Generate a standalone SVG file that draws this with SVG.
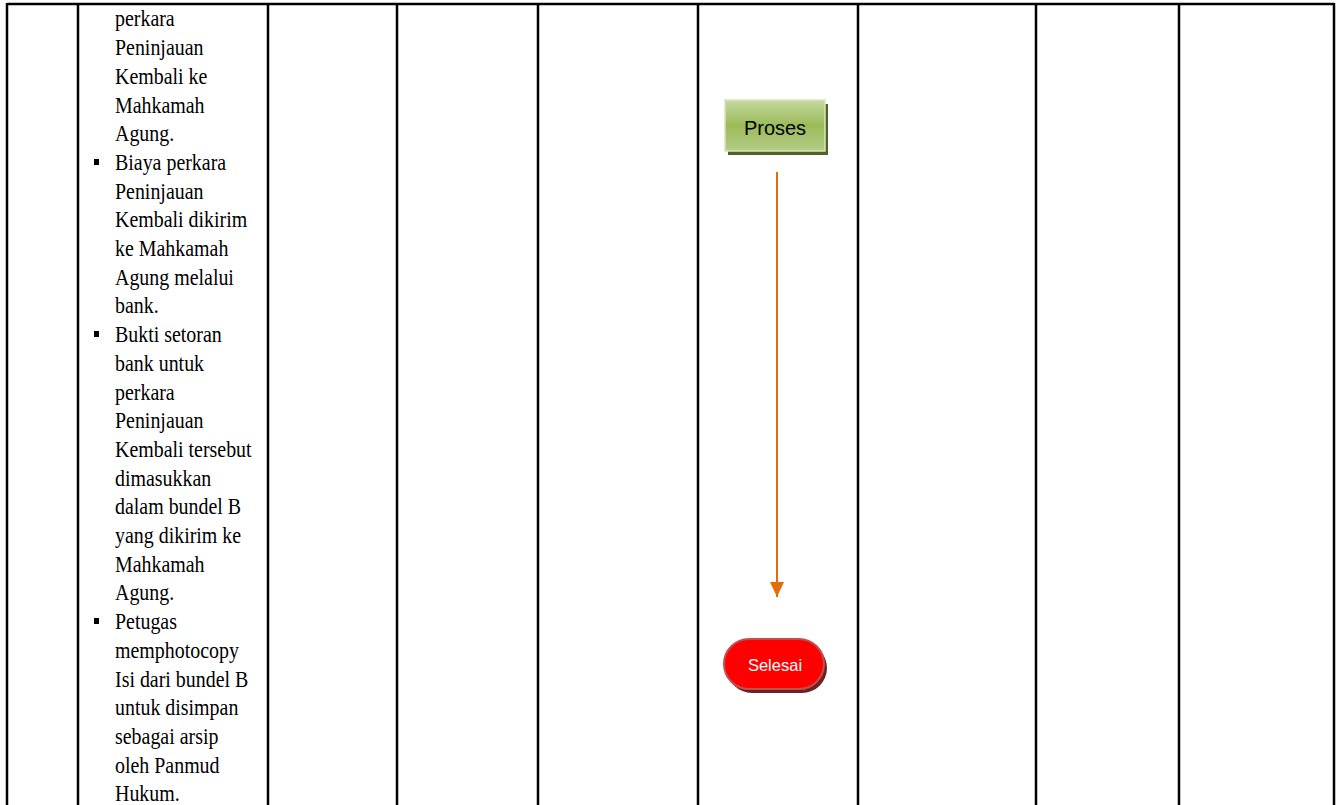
<svg xmlns="http://www.w3.org/2000/svg" width="1337" height="805" viewBox="0 0 1337 805">
<style>
.grid{stroke:#000;stroke-width:2.5;fill:none}
.body{font-family:"Liberation Serif","Times New Roman",serif;font-size:24px;fill:#000}
.lbl{font-family:"Liberation Sans",Arial,sans-serif;text-anchor:middle}
.conn{stroke:#e36c09;stroke-width:2;fill:none}
</style>
<defs>
<linearGradient id="gGreen" x1="0" y1="0" x2="0" y2="1">
<stop offset="0" stop-color="#c6d9a0"/>
<stop offset="0.5" stop-color="#9bbb59"/>
<stop offset="1" stop-color="#b5cc86"/>
</linearGradient>
<marker id="arr" markerWidth="15" markerHeight="14" refX="15" refY="7" orient="auto" markerUnits="userSpaceOnUse" viewBox="0 0 15 14">
<path d="M0,0 L15,7 L0,14 Z" fill="#e36c09"/>
</marker>
</defs>
<rect x="0" y="0" width="1337" height="805" fill="#fff"/>
<g id="table" class="grid">
<line x1="7" y1="4" x2="1334" y2="4"/>
<line x1="7" y1="3" x2="7" y2="805"/>
<line x1="78" y1="3" x2="78" y2="805"/>
<line x1="268" y1="3" x2="268" y2="805"/>
<line x1="397" y1="3" x2="397" y2="805"/>
<line x1="538" y1="3" x2="538" y2="805"/>
<line x1="698" y1="3" x2="698" y2="805"/>
<line x1="858" y1="3" x2="858" y2="805"/>
<line x1="1036" y1="3" x2="1036" y2="805"/>
<line x1="1179" y1="3" x2="1179" y2="805"/>
<line x1="1334" y1="3" x2="1334" y2="805"/>
</g>
<g id="description">
<g fill="#000">
<rect x="94" y="159" width="5" height="6"/>
<rect x="94" y="331" width="5" height="6"/>
<rect x="94" y="618" width="5" height="6"/>
</g>
<g transform="translate(115 0) scale(0.83 1)">
<text class="body" x="0">
<tspan x="0" y="26.5">perkara</tspan>
<tspan x="0" y="55.2">Peninjauan</tspan>
<tspan x="0" y="83.9">Kembali ke</tspan>
<tspan x="0" y="112.6">Mahkamah</tspan>
<tspan x="0" y="141.3">Agung.</tspan>
<tspan x="0" y="170">Biaya perkara</tspan>
<tspan x="0" y="198.7">Peninjauan</tspan>
<tspan x="0" y="227.4">Kembali dikirim</tspan>
<tspan x="0" y="256.1">ke Mahkamah</tspan>
<tspan x="0" y="284.8">Agung melalui</tspan>
<tspan x="0" y="313.5">bank.</tspan>
<tspan x="0" y="342.2">Bukti setoran</tspan>
<tspan x="0" y="370.9">bank untuk</tspan>
<tspan x="0" y="399.6">perkara</tspan>
<tspan x="0" y="428.3">Peninjauan</tspan>
<tspan x="0" y="457">Kembali tersebut</tspan>
<tspan x="0" y="485.7">dimasukkan</tspan>
<tspan x="0" y="514.4">dalam bundel B</tspan>
<tspan x="0" y="543.1">yang dikirim ke</tspan>
<tspan x="0" y="571.8">Mahkamah</tspan>
<tspan x="0" y="600.5">Agung.</tspan>
<tspan x="0" y="629.2">Petugas</tspan>
<tspan x="0" y="657.9">memphotocopy</tspan>
<tspan x="0" y="686.6">Isi dari bundel B</tspan>
<tspan x="0" y="715.3">untuk disimpan</tspan>
<tspan x="0" y="744">sebagai arsip</tspan>
<tspan x="0" y="772.7">oleh Panmud</tspan>
<tspan x="0" y="801.4">Hukum.</tspan>
</text>
</g>
</g>
<g id="connectors">
<line class="conn" x1="777" y1="172" x2="777" y2="597" marker-end="url(#arr)"/>
</g>
<g id="node-proses">
<rect x="728" y="104" width="100" height="51" fill="#4f6228"/>
<rect x="725" y="100" width="100" height="51" fill="url(#gGreen)" stroke="#d7e4bd" stroke-width="1.5"/>
<text class="lbl" x="775" y="135" font-size="20" fill="#000">Proses</text>
</g>
<g id="node-selesai">
<rect x="727" y="643" width="100" height="50" rx="25" fill="#6b2222"/>
<rect x="724" y="639" width="100" height="50" rx="25" fill="#ff0000" stroke="#c0504d" stroke-width="2"/>
<text class="lbl" x="775" y="671" font-size="16.5" fill="#fff">Selesai</text>
</g>
</svg>
